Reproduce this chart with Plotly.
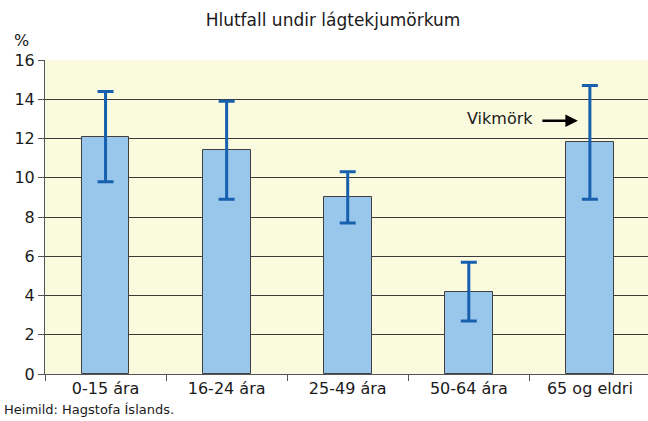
import plotly.graph_objects as go

categories = ["0-15 ára", "16-24 ára", "25-49 ára", "50-64 ára", "65 og eldri"]
values = [12.1, 11.4, 9.0, 4.2, 11.8]
err_low = [9.8, 8.9, 7.7, 2.7, 8.9]
err_high = [14.4, 13.9, 10.3, 5.7, 14.7]
y_ticks = [0, 2, 4, 6, 8, 10, 12, 14, 16]

plus = [h - v for h, v in zip(err_high, values)]
minus = [v - l for v, l in zip(values, err_low)]

FONT = "DejaVu Sans"
TXT = "#1a1a1a"

fig = go.Figure()
fig.add_trace(go.Bar(
    x=categories, y=values, width=0.395,
    marker=dict(color="#99C7EB", line=dict(color="#404040", width=1)),
    error_y=dict(type="data", symmetric=False, array=plus, arrayminus=minus,
                 color="#1660AE", thickness=3, width=8),
))

PW, PH = 603, 314

fig.update_layout(
    width=648, height=421,
    margin=dict(l=45, r=0, t=60, b=47),
    paper_bgcolor="white", plot_bgcolor="#FAFADF",
    showlegend=False, bargap=0,
    font=dict(family=FONT, size=16, color=TXT),
    title=dict(text="Hlutfall undir lágtekjumörkum", x=333/648, xanchor="center",
               y=1-20/421, yanchor="middle", font=dict(size=17, family=FONT, color=TXT)),
    xaxis=dict(type="category", range=[-0.5, 4.48], tickson="boundaries", ticks="outside",
               ticklen=6, tickcolor="#555", showgrid=False, showline=True, linecolor="#555",
               tickfont=dict(size=16, family=FONT), automargin=False),
    yaxis=dict(range=[0, 16], tickvals=y_ticks, ticks="outside", ticklen=6, tickcolor="#555",
               showgrid=True, gridcolor="#3a3a3a", gridwidth=1,
               showline=True, linecolor="#555", zeroline=False,
               tickfont=dict(size=16, family=FONT), automargin=False),
    annotations=[
        dict(text="%", xref="paper", yref="paper", x=-33/PW, y=1+20/PH,
             xanchor="left", yanchor="middle", showarrow=False, font=dict(size=16, family=FONT)),
        dict(text="Heimild: Hagstofa Íslands.", xref="paper", yref="paper", x=-43/PW,
             y=-35/PH, xanchor="left", yanchor="middle", showarrow=False,
             font=dict(size=13, family=FONT)),
        dict(text="Vikmörk", x=4, y=13.0, xref="x", yref="y", showarrow=False,
             xshift=-90, xanchor="center", yanchor="middle", font=dict(size=16, family=FONT)),
        dict(text="", x=4, y=12.9, xref="x", yref="y", ax=-37, ay=0,
             xshift=-12, showarrow=True, arrowhead=2, arrowsize=1, arrowwidth=2.5,
             arrowcolor="#000"),
    ],
)

fig.write_html(
    "out.html",
    config={"displayModeBar": False},
    post_script=(
        "document.body.style.margin='0px';document.body.style.padding='0px';"
        "document.body.style.overflow='hidden';document.documentElement.style.overflow='hidden';"
    ),
)
